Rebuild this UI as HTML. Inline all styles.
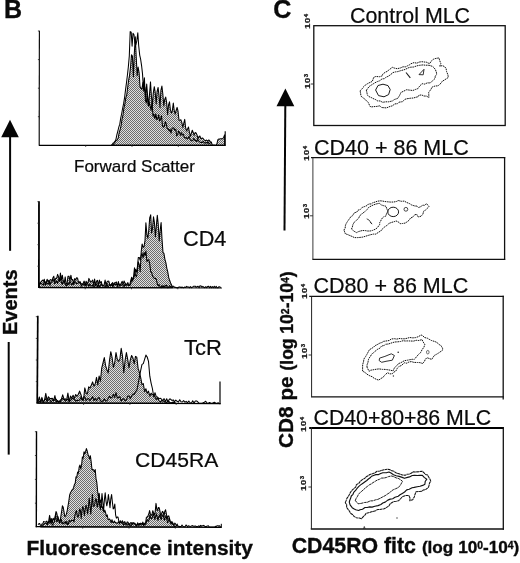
<!DOCTYPE html>
<html><head><meta charset="utf-8"><title>Figure</title>
<style>
html,body{margin:0;padding:0;background:#fff;}
body{width:520px;height:563px;position:relative;overflow:hidden;font-family:"Liberation Sans",sans-serif;color:#0a0a0a;}
svg{position:absolute;left:0;top:0;}
.t{position:absolute;white-space:nowrap;line-height:1;}
.b{font-weight:bold;-webkit-text-stroke:0.35px #0a0a0a;}
.n{-webkit-text-stroke:0.22px #0a0a0a;}
.rot{transform-origin:0 0;transform:rotate(-90deg);}
sup{font-size:60%;vertical-align:baseline;position:relative;top:-0.42em;line-height:0;}
.tk{font-size:8.6px;font-weight:bold;color:#111;letter-spacing:0.3px;-webkit-text-stroke:0.25px #111;transform-origin:0 0;transform:rotate(-90deg) scale(1.15,0.86);}
.tk sup{font-size:62%;top:-0.32em;}
</style></head><body>
<svg width="520" height="563" viewBox="0 0 520 563">
<defs><pattern id="ht" width="2" height="2" patternUnits="userSpaceOnUse"><rect width="2" height="2" fill="#e0e0e0"/><rect width="1" height="1" fill="#6c6c6c"/><rect x="1" y="1" width="1" height="1" fill="#6c6c6c"/></pattern></defs>
<path d="M112.5 145.3 L112.5 145.3 L113.5 144.0 L114.4 143.0 L115.4 141.5 L116.3 140.3 L117.3 139.9 L118.2 137.9 L119.2 132.6 L120.1 129.6 L121.1 125.7 L122.0 119.3 L123.0 114.9 L123.9 108.1 L124.9 103.8 L125.8 97.9 L126.8 94.6 L127.7 87.3 L128.7 79.8 L129.6 75.1 L130.6 66.2 L131.5 54.8 L132.4 56.1 L133.4 76.8 L134.3 53.4 L135.3 36.7 L136.2 56.9 L137.2 75.6 L138.1 67.0 L139.1 72.5 L140.0 86.5 L141.0 88.5 L141.9 89.3 L142.9 82.6 L143.8 91.1 L144.8 87.1 L145.7 97.2 L146.7 84.1 L147.6 95.8 L148.6 106.3 L149.5 94.5 L150.5 81.9 L151.4 96.2 L152.4 105.7 L153.3 92.9 L154.3 86.7 L155.2 92.4 L156.2 104.0 L157.1 91.3 L158.1 87.5 L159.0 95.4 L160.0 107.7 L160.9 90.4 L161.9 86.1 L162.8 93.7 L163.8 105.9 L164.7 99.5 L165.7 97.1 L166.6 102.4 L167.6 114.5 L168.5 105.2 L169.5 101.8 L170.4 109.8 L171.4 113.0 L172.3 111.0 L173.3 103.1 L174.2 110.3 L175.2 114.0 L176.1 110.7 L177.1 107.4 L178.0 111.0 L179.0 120.3 L179.9 120.2 L180.9 119.8 L181.8 122.4 L182.8 127.3 L183.7 123.5 L184.7 119.4 L185.6 127.6 L186.6 130.9 L187.5 129.3 L188.5 127.0 L189.4 132.2 L190.4 136.2 L191.3 133.5 L192.3 130.2 L193.2 132.4 L194.2 135.2 L195.1 132.6 L196.1 132.9 L197.0 134.9 L198.0 138.5 L198.9 136.6 L199.9 136.0 L200.8 138.7 L201.8 138.2 L202.7 138.0 L203.7 139.3 L204.6 140.1 L205.6 140.6 L206.5 140.0 L207.5 141.0 L208.4 140.1 L209.4 140.3 L210.3 141.8 L211.3 142.0 L212.2 144.9 L213.2 145.1 L214.1 144.9 L215.1 145.3 L216.0 145.3 L217.0 143.4 L217.9 139.6 L218.9 139.0 L219.8 138.9 L220.8 138.7 L221.7 138.7 L222.7 138.7 L223.6 137.5 L224.6 134.9 L224.6 145.3 Z" fill="url(#ht)" stroke="#000" stroke-width="1.05" stroke-linejoin="round"/>
<path d="M111.2 145.3 L112.2 144.5 L113.1 143.1 L114.1 142.3 L115.0 141.4 L116.0 139.1 L116.9 134.6 L117.9 131.0 L118.8 127.2 L119.8 124.2 L120.7 118.1 L121.7 113.5 L122.6 108.5 L123.6 103.7 L124.5 98.2 L125.5 90.1 L126.4 83.4 L127.4 75.3 L128.3 67.2 L129.3 56.0 L130.2 31.6 L131.2 32.3 L132.1 46.3 L133.0 33.3 L134.0 34.7 L134.9 43.3 L135.9 44.7 L136.8 40.8 L137.8 32.7 L138.7 45.8 L139.7 55.1 L140.6 59.0 L141.6 65.8 L142.5 73.6 L143.5 89.5 L144.4 77.8 L145.4 100.4 L146.3 102.9 L147.3 93.7 L148.2 105.2 L149.2 102.3 L150.1 105.9 L151.1 110.5 L152.0 101.9 L153.0 116.3 L153.9 114.3 L154.9 118.7 L155.8 113.9 L156.8 119.6 L157.7 119.2 L158.7 114.8 L159.6 121.0 L160.6 118.9 L161.5 115.7 L162.5 126.1 L163.4 127.3 L164.4 126.3 L165.3 121.6 L166.3 124.2 L167.2 128.7 L168.2 128.7 L169.1 130.9 L170.1 129.4 L171.0 133.2 L172.0 128.7 L172.9 127.8 L173.9 128.0 L174.8 130.2 L175.8 129.3 L176.7 136.0 L177.7 134.7 L178.6 131.0 L179.6 132.7 L180.5 135.3 L181.5 132.8 L182.4 135.0 L183.4 134.4 L184.3 137.4 L185.3 138.2 L186.2 137.4 L187.2 139.1 L188.1 138.3 L189.1 136.3 L190.0 139.2 L191.0 140.7 L191.9 140.7 L192.9 140.4 L193.8 138.4 L194.8 140.2 L195.7 140.6 L196.7 141.5 L197.6 138.9 L198.6 140.9 L199.5 141.7 L200.5 142.4 L201.4 142.5 L202.4 142.4 L203.3 141.3 L204.3 142.8 L205.2 143.2 L206.2 142.3 L207.1 143.1 L208.1 141.7 L209.0 143.7 L210.0 143.1 L210.9 142.8" fill="none" stroke="#000" stroke-width="1.05" stroke-linejoin="round"/>
<path d="M39.5 287.7 L39.5 283.4 L40.5 282.3 L41.4 281.5 L42.4 280.1 L43.3 281.0 L44.3 279.3 L45.2 285.4 L46.2 282.4 L47.1 279.3 L48.1 281.6 L49.0 280.2 L50.0 285.4 L50.9 281.8 L51.9 282.3 L52.8 278.1 L53.8 276.3 L54.7 281.7 L55.7 278.3 L56.6 278.5 L57.6 274.4 L58.5 276.6 L59.5 281.4 L60.4 273.0 L61.4 280.2 L62.3 275.2 L63.3 281.3 L64.2 283.3 L65.2 276.9 L66.1 284.0 L67.1 283.4 L68.0 276.3 L69.0 276.2 L69.9 280.9 L70.9 275.2 L71.8 279.9 L72.8 279.5 L73.7 283.9 L74.7 278.5 L75.6 280.1 L76.6 277.7 L77.5 277.9 L78.5 282.4 L79.4 281.7 L80.4 283.3 L81.3 283.7 L82.3 284.6 L83.2 283.0 L84.2 281.1 L85.1 285.6 L86.1 281.2 L87.0 283.1 L88.0 282.9 L88.9 278.4 L89.9 280.6 L90.8 282.2 L91.8 281.3 L92.7 280.0 L93.7 285.1 L94.6 279.1 L95.6 285.9 L96.5 281.2 L97.5 280.3 L98.4 285.7 L99.4 280.1 L100.3 283.0 L101.3 281.6 L102.2 285.8 L103.2 285.6 L104.1 284.9 L105.1 280.1 L106.0 285.1 L107.0 281.8 L107.9 281.1 L108.9 281.3 L109.8 284.9 L110.8 284.8 L111.7 283.9 L112.7 282.5 L113.6 286.2 L114.6 282.7 L115.5 282.4 L116.5 282.0 L117.4 286.6 L118.4 281.6 L119.3 286.3 L120.3 284.9 L121.2 283.2 L122.2 281.3 L123.1 284.6 L124.1 281.0 L125.0 283.1 L126.0 284.4 L126.9 284.3 L127.9 285.1 L128.8 285.5 L129.8 284.8 L130.7 280.7 L131.7 277.2 L132.6 281.1 L133.6 276.2 L134.5 267.8 L135.5 275.5 L136.4 276.8 L137.4 271.5 L138.3 261.8 L139.3 264.7 L140.2 271.8 L141.2 251.7 L142.1 244.0 L143.1 247.4 L144.0 246.8 L145.0 240.6 L145.9 222.8 L146.9 234.9 L147.8 238.2 L148.8 230.1 L149.7 218.0 L150.7 214.8 L151.6 233.0 L152.5 228.7 L153.5 216.8 L154.4 222.4 L155.4 236.7 L156.3 226.5 L157.3 215.3 L158.2 223.9 L159.2 241.0 L160.1 230.7 L161.1 222.5 L162.0 239.1 L163.0 252.8 L163.9 253.3 L164.9 259.3 L165.8 262.4 L166.8 268.2 L167.7 271.7 L168.7 277.4 L169.6 280.3 L170.6 283.0 L171.5 284.8 L172.5 287.7 L172.5 287.7 Z" fill="url(#ht)" stroke="#000" stroke-width="1.05" stroke-linejoin="round"/>
<path d="M39.5 283.9 L40.5 283.0 L41.4 283.8 L42.4 284.3 L43.3 285.2 L44.3 281.1 L45.2 282.7 L46.2 281.7 L47.1 284.2 L48.1 282.7 L49.0 284.2 L50.0 280.2 L50.9 279.5 L51.9 280.6 L52.8 280.2 L53.8 280.1 L54.7 283.8 L55.7 282.4 L56.6 281.0 L57.6 283.5 L58.5 279.8 L59.5 280.0 L60.4 278.9 L61.4 282.6 L62.3 284.4 L63.3 280.9 L64.2 281.5 L65.2 283.9 L66.1 285.9 L67.1 285.3 L68.0 283.1 L69.0 284.7 L69.9 281.3 L70.9 283.1 L71.8 285.1 L72.8 282.9 L73.7 284.4 L74.7 281.7 L75.6 281.9 L76.6 283.8 L77.5 283.2 L78.5 283.0 L79.4 282.6 L80.4 281.9 L81.3 286.3 L82.3 284.8 L83.2 283.8 L84.2 285.2 L85.1 284.0 L86.1 286.2 L87.0 282.9 L88.0 284.5 L88.9 286.3 L89.9 284.0 L90.8 285.6 L91.8 286.1 L92.7 285.0 L93.7 286.4 L94.6 286.2 L95.6 283.7 L96.5 284.4 L97.5 287.1 L98.4 284.1 L99.4 287.1 L100.3 285.9 L101.3 283.7 L102.2 284.9 L103.2 286.1 L104.1 285.9 L105.1 285.8 L106.0 286.9 L107.0 283.6 L107.9 287.2 L108.9 285.8 L109.8 284.7 L110.8 286.0 L111.7 283.8 L112.7 286.5 L113.6 283.7 L114.6 284.0 L115.5 284.8 L116.5 283.9 L117.4 285.5 L118.4 284.0 L119.3 284.1 L120.3 285.2 L121.2 285.3 L122.2 284.4 L123.1 285.5 L124.1 286.7 L125.0 284.1 L126.0 285.7 L126.9 284.3 L127.9 282.6 L128.8 285.1 L129.8 285.6 L130.7 284.0 L131.7 279.6 L132.6 279.3 L133.6 278.3 L134.5 275.1 L135.5 269.3 L136.4 272.2 L137.4 267.1 L138.3 257.6 L139.3 257.5 L140.2 260.3 L141.2 255.2 L142.1 253.5 L143.1 257.8 L144.0 252.5 L145.0 255.5 L145.9 251.0 L146.9 261.5 L147.8 260.4 L148.8 259.8 L149.7 263.6 L150.7 271.8 L151.6 272.1 L152.5 276.2 L153.5 277.4 L154.4 278.5 L155.4 278.3 L156.3 279.3 L157.3 283.8 L158.2 285.7 L159.2 284.7 L160.1 286.9 L161.1 287.6 L162.0 285.4 L163.0 287.4 L163.9 285.7 L164.9 286.8 L165.8 285.2 L166.8 285.6 L167.7 287.7 L168.7 287.6 L169.6 285.5 L170.6 286.5 L171.5 287.1 L172.5 286.2 L173.4 286.2 L174.4 287.2 L175.3 287.3 L176.3 287.7 L177.2 287.6 L178.2 287.7 L179.1 286.9 L180.1 287.0 L181.0 287.7 L182.0 287.0 L182.9 287.7 L183.9 287.7 L184.8 287.0 L185.8 287.5 L186.7 286.4 L187.7 287.1 L188.6 287.0 L189.6 287.7 L190.5 286.6 L191.5 287.7 L192.4 287.1 L193.4 286.3 L194.3 286.2 L195.3 286.2 L196.2 287.3 L197.2 286.6 L198.1 286.3 L199.1 287.7 L200.0 285.8 L201.0 285.9 L201.9 287.2 L202.9 286.4 L203.8 287.3 L204.8 287.7 L205.7 286.7 L206.7 287.7 L207.6 286.6 L208.6 286.2 L209.5 287.7 L210.5 286.4 L211.4 287.7 L212.4 286.6 L213.3 287.7 L214.3 286.3 L215.2 287.7 L216.2 286.4 L217.1 287.7 L218.1 287.7 L219.0 286.7 L220.0 287.1 L220.9 287.4" fill="none" stroke="#000" stroke-width="1.05" stroke-linejoin="round"/>
<path d="M38.0 403.3 L38.0 402.0 L39.3 396.9 L40.6 402.1 L41.9 397.4 L43.2 401.9 L44.5 400.2 L45.8 393.4 L47.1 400.5 L48.4 396.7 L49.7 398.4 L51.0 398.5 L52.3 398.2 L53.6 400.9 L54.9 395.5 L56.2 401.8 L57.5 400.5 L58.8 402.3 L60.1 400.3 L61.4 399.1 L62.7 394.8 L64.0 399.1 L65.3 401.3 L66.6 400.0 L67.9 393.1 L69.2 401.6 L70.5 396.1 L71.8 398.3 L73.1 395.3 L74.4 398.4 L75.7 394.5 L77.0 396.3 L78.3 394.3 L79.6 391.1 L80.9 394.4 L82.2 399.5 L83.5 400.3 L84.8 387.9 L86.1 393.0 L87.4 393.9 L88.7 386.8 L90.0 388.0 L91.3 385.1 L92.6 381.9 L93.9 386.1 L95.2 384.0 L96.5 377.4 L97.8 384.9 L99.1 376.0 L100.4 381.2 L101.7 368.2 L103.0 363.0 L104.3 357.6 L105.6 365.7 L106.9 369.7 L108.2 372.9 L109.5 360.4 L110.8 351.7 L112.1 357.5 L113.4 367.4 L114.7 362.7 L116.0 352.6 L117.3 359.4 L118.6 361.2 L119.9 358.9 L121.2 348.3 L122.5 356.1 L123.8 372.7 L125.1 360.4 L126.4 352.5 L127.7 359.3 L129.0 367.8 L130.3 359.9 L131.6 355.5 L132.9 357.8 L134.2 363.7 L135.5 356.4 L136.8 357.2 L138.1 368.4 L139.4 372.3 L140.7 377.6 L142.0 384.6 L143.3 383.6 L144.6 391.5 L145.9 388.7 L147.2 393.3 L148.5 391.1 L149.8 396.2 L151.1 393.2 L152.4 394.8 L153.7 394.6 L155.0 397.0 L156.3 399.5 L157.6 397.7 L158.9 400.5 L160.2 401.9 L161.5 400.5 L162.8 400.9 L164.1 401.1 L165.4 402.1 L166.7 402.3 L168.0 401.1 L169.3 401.8 L170.6 403.0 L171.9 402.5 L173.2 402.0 L174.5 402.4 L175.8 403.3 L175.8 403.3 Z" fill="url(#ht)" stroke="#000" stroke-width="1.05" stroke-linejoin="round"/>
<path d="M38.0 401.0 L39.3 401.2 L40.6 402.0 L41.9 399.1 L43.2 402.4 L44.5 400.3 L45.8 398.6 L47.1 401.8 L48.4 399.8 L49.7 399.4 L51.0 401.8 L52.3 400.5 L53.6 399.2 L54.9 400.3 L56.2 399.2 L57.5 401.6 L58.8 401.3 L60.1 401.9 L61.4 400.2 L62.7 398.4 L64.0 399.7 L65.3 398.8 L66.6 400.4 L67.9 398.8 L69.2 401.5 L70.5 400.6 L71.8 398.8 L73.1 398.5 L74.4 399.7 L75.7 401.2 L77.0 400.3 L78.3 400.5 L79.6 400.1 L80.9 397.4 L82.2 400.3 L83.5 396.9 L84.8 396.8 L86.1 400.8 L87.4 399.1 L88.7 398.5 L90.0 400.8 L91.3 398.8 L92.6 396.5 L93.9 400.6 L95.2 398.4 L96.5 400.8 L97.8 398.7 L99.1 397.4 L100.4 400.7 L101.7 401.5 L103.0 401.0 L104.3 398.7 L105.6 401.1 L106.9 400.7 L108.2 398.5 L109.5 396.2 L110.8 398.1 L112.1 397.2 L113.4 394.5 L114.7 397.4 L116.0 392.6 L117.3 397.9 L118.6 397.5 L119.9 396.7 L121.2 401.1 L122.5 398.9 L123.8 398.7 L125.1 400.9 L126.4 400.1 L127.7 396.3 L129.0 395.9 L130.3 398.7 L131.6 396.0 L132.9 394.1 L134.2 394.5 L135.5 391.7 L136.8 390.5 L138.1 384.2 L139.4 377.0 L140.7 370.4 L142.0 364.4 L143.3 363.6 L144.6 359.3 L145.9 355.1 L147.2 357.0 L148.5 361.3 L149.8 376.2 L151.1 383.1 L152.4 388.5 L153.7 396.7 L155.0 392.7 L156.3 397.0 L157.6 397.0 L158.9 398.9 L160.2 398.2 L161.5 399.2 L162.8 400.8 L164.1 398.6 L165.4 401.4 L166.7 398.7 L168.0 402.0 L169.3 399.1 L170.6 399.1 L171.9 400.5 L173.2 399.9 L174.5 401.7 L175.8 400.1 L177.1 401.3 L178.4 402.1 L179.7 399.8 L181.0 401.8 L182.3 402.0 L183.6 400.6 L184.9 402.3 L186.2 401.4 L187.5 402.9 L188.8 401.0 L190.1 402.8 L191.4 403.3 L192.7 400.8 L194.0 403.1 L195.3 401.0 L196.6 400.9 L197.9 402.0 L199.2 403.3 L200.5 403.3 L201.8 403.2 L203.1 402.8 L204.4 402.2 L205.7 401.3 L207.0 403.0 L208.3 403.3 L209.6 402.5 L210.9 403.3 L212.2 403.3 L213.5 402.6 L214.8 402.3 L216.1 403.3 L217.4 402.9 L218.7 402.4" fill="none" stroke="#000" stroke-width="1.05" stroke-linejoin="round"/>
<path d="M40.8 527.0 L40.8 527.0 L41.6 526.2 L42.4 525.2 L43.2 524.9 L44.0 524.1 L44.8 523.4 L45.6 523.1 L46.4 523.3 L47.2 525.0 L48.0 523.2 L48.8 520.4 L49.6 515.4 L50.4 519.8 L51.2 522.4 L52.0 524.1 L52.8 525.1 L53.6 522.9 L54.4 521.6 L55.2 516.3 L56.0 511.5 L56.8 513.3 L57.6 517.4 L58.4 519.4 L59.2 521.4 L60.0 522.3 L60.8 516.7 L61.6 511.7 L62.4 505.7 L63.2 507.3 L64.0 511.6 L64.8 516.6 L65.6 515.9 L66.4 514.2 L67.2 510.6 L68.0 506.0 L68.8 501.3 L69.6 495.2 L70.4 492.8 L71.2 491.5 L72.0 489.9 L72.8 489.6 L73.6 487.5 L74.4 484.6 L75.2 483.4 L76.0 476.9 L76.8 477.2 L77.6 472.1 L78.4 473.3 L79.2 466.9 L80.0 465.0 L80.8 469.0 L81.6 465.0 L82.4 456.9 L83.2 458.3 L84.0 451.7 L84.8 453.7 L85.6 451.5 L86.4 448.6 L87.2 451.0 L88.0 454.4 L88.8 456.3 L89.6 458.9 L90.4 455.7 L91.2 462.1 L92.0 469.8 L92.8 469.4 L93.6 469.9 L94.4 471.8 L95.2 469.6 L96.0 478.5 L96.8 482.3 L97.6 490.7 L98.4 496.8 L99.2 493.4 L100.0 502.4 L100.8 500.1 L101.6 507.3 L102.4 506.8 L103.2 510.5 L104.0 512.1 L104.8 510.1 L105.6 512.6 L106.4 516.5 L107.2 514.9 L108.0 519.1 L108.8 519.5 L109.6 519.0 L110.4 520.5 L111.2 522.5 L112.0 519.7 L112.8 522.4 L113.6 522.4 L114.4 521.0 L115.2 522.5 L116.0 522.6 L116.8 523.3 L117.6 523.3 L118.4 521.8 L119.2 522.8 L120.0 521.7 L120.8 522.5 L121.6 522.2 L122.4 520.8 L123.2 522.4 L124.0 522.3 L124.8 521.6 L125.6 523.7 L126.4 523.9 L127.2 521.9 L128.0 522.3 L128.8 524.0 L129.6 524.3 L130.4 523.0 L131.2 522.5 L132.0 524.5 L132.8 522.6 L133.6 522.8 L134.4 523.5 L135.2 524.0 L136.0 524.9 L136.8 525.1 L137.6 522.8 L138.4 524.7 L139.2 523.6 L140.0 524.7 L140.8 523.1 L141.6 523.7 L142.4 524.4 L143.2 524.7 L144.0 523.0 L144.8 524.9 L145.6 522.8 L146.4 517.3 L147.2 516.9 L148.0 515.8 L148.8 514.0 L149.6 510.6 L150.4 513.9 L151.2 515.3 L152.0 514.5 L152.8 510.7 L153.6 513.0 L154.4 515.0 L155.2 511.8 L156.0 503.4 L156.8 509.1 L157.6 510.4 L158.4 507.5 L159.2 507.8 L160.0 511.3 L160.8 516.5 L161.6 513.6 L162.4 511.4 L163.2 512.2 L164.0 516.3 L164.8 511.2 L165.6 509.8 L166.4 514.0 L167.2 519.2 L168.0 516.0 L168.8 515.9 L169.6 518.8 L170.4 522.4 L171.2 522.1 L172.0 524.2 L172.8 523.5 L173.6 525.0 L174.4 526.6 L175.2 526.3 L176.0 527.0 L176.0 527.0 Z" fill="url(#ht)" stroke="#000" stroke-width="1.05" stroke-linejoin="round"/>
<path d="M38.0 524.7 L38.8 523.8 L39.6 523.5 L40.4 525.3 L41.2 525.6 L42.0 523.9 L42.8 524.1 L43.6 521.5 L44.4 521.8 L45.2 522.0 L46.0 521.9 L46.8 521.1 L47.6 523.5 L48.4 521.8 L49.2 523.1 L50.0 518.7 L50.8 523.3 L51.6 518.6 L52.4 522.7 L53.2 518.2 L54.0 519.9 L54.8 518.8 L55.6 514.8 L56.4 521.3 L57.2 521.6 L58.0 516.5 L58.8 520.1 L59.6 523.3 L60.4 518.9 L61.2 519.2 L62.0 523.7 L62.8 522.2 L63.6 523.8 L64.4 523.0 L65.2 521.5 L66.0 523.9 L66.8 521.4 L67.6 524.6 L68.4 523.9 L69.2 520.3 L70.0 522.1 L70.8 521.6 L71.6 520.2 L72.4 520.5 L73.2 520.3 L74.0 521.9 L74.8 515.9 L75.6 512.9 L76.4 510.5 L77.2 515.4 L78.0 517.3 L78.8 514.8 L79.6 509.0 L80.4 510.3 L81.2 518.5 L82.0 510.6 L82.8 506.4 L83.6 509.3 L84.4 515.4 L85.2 509.4 L86.0 505.2 L86.8 507.4 L87.6 514.0 L88.4 507.5 L89.2 498.3 L90.0 505.2 L90.8 514.1 L91.6 505.0 L92.4 494.3 L93.2 506.3 L94.0 506.3 L94.8 503.9 L95.6 498.8 L96.4 499.6 L97.2 507.2 L98.0 504.5 L98.8 495.0 L99.6 505.0 L100.4 509.5 L101.2 503.6 L102.0 493.5 L102.8 502.2 L103.6 510.7 L104.4 499.9 L105.2 492.7 L106.0 501.1 L106.8 505.8 L107.6 501.8 L108.4 494.6 L109.2 500.9 L110.0 507.8 L110.8 498.8 L111.6 494.6 L112.4 502.3 L113.2 508.9 L114.0 508.1 L114.8 504.1 L115.6 514.8 L116.4 518.1 L117.2 517.1 L118.0 517.0 L118.8 521.2 L119.6 523.9 L120.4 520.7 L121.2 522.1 L122.0 523.1 L122.8 523.1 L123.6 525.3 L124.4 524.0 L125.2 523.4 L126.0 524.6 L126.8 525.2 L127.6 524.6 L128.4 525.0 L129.2 523.7 L130.0 525.7 L130.8 525.9 L131.6 525.1 L132.4 523.8 L133.2 523.7 L134.0 524.0 L134.8 523.1 L135.6 525.0 L136.4 526.1 L137.2 524.4 L138.0 524.5 L138.8 525.4 L139.6 523.5 L140.4 524.7 L141.2 525.0 L142.0 524.6 L142.8 522.1 L143.6 525.7 L144.4 524.2 L145.2 524.3 L146.0 523.9 L146.8 520.2 L147.6 519.8 L148.4 521.2 L149.2 519.2 L150.0 514.9 L150.8 518.0 L151.6 518.9 L152.4 517.1 L153.2 513.8 L154.0 516.0 L154.8 519.5 L155.6 516.7 L156.4 513.8 L157.2 517.0 L158.0 520.4 L158.8 516.7 L159.6 514.9 L160.4 517.8 L161.2 519.6 L162.0 516.0 L162.8 515.5 L163.6 516.7 L164.4 520.3 L165.2 517.6 L166.0 516.1 L166.8 519.0 L167.6 522.6 L168.4 520.9 L169.2 518.5 L170.0 521.4 L170.8 523.6 L171.6 521.8 L172.4 521.9 L173.2 524.2 L174.0 525.3 L174.8 523.1 L175.6 523.8 L176.4 526.1 L177.2 524.1 L178.0 526.8 L178.8 526.0 L179.6 526.9 L180.4 526.5 L181.2 526.5 L182.0 525.0 L182.8 526.3 L183.6 526.6 L184.4 526.7 L185.2 526.4 L186.0 525.0 L186.8 525.7 L187.6 527.0 L188.4 525.7 L189.2 526.1 L190.0 526.4 L190.8 526.2 L191.6 525.9 L192.4 525.6 L193.2 526.3 L194.0 526.0 L194.8 526.4 L195.6 526.0 L196.4 526.6 L197.2 526.6 L198.0 526.3 L198.8 525.9 L199.6 526.9 L200.4 525.4 L201.2 526.4 L202.0 525.6 L202.8 526.0 L203.6 525.4 L204.4 526.0 L205.2 526.6 L206.0 526.7 L206.8 526.3 L207.6 525.9 L208.4 525.8 L209.2 527.0 L210.0 527.0 L210.8 527.0 L211.6 527.0 L212.4 527.0 L213.2 527.0 L214.0 527.0 L214.8 527.0 L215.6 526.3 L216.4 526.4 L217.2 525.7 L218.0 525.7 L218.8 526.2 L219.6 525.8 L220.4 527.0 L221.2 527.0" fill="none" stroke="#000" stroke-width="1.05" stroke-linejoin="round"/>
<line x1="39.4" y1="30.8" x2="39.2" y2="145.8" stroke="#111" stroke-width="1.20"/>
<line x1="39.0" y1="145.3" x2="225.6" y2="145.3" stroke="#000" stroke-width="1.20"/>
<line x1="225.2" y1="131.3" x2="225.2" y2="145.8" stroke="#000" stroke-width="1.10"/>
<line x1="39.0" y1="201.2" x2="38.9" y2="288.0" stroke="#000" stroke-width="1.80"/>
<line x1="38.2" y1="287.4" x2="221.9" y2="288.0" stroke="#000" stroke-width="1.20"/>
<line x1="37.8" y1="315.8" x2="37.2" y2="403.5" stroke="#000" stroke-width="1.70"/>
<line x1="36.6" y1="402.9" x2="220.6" y2="403.7" stroke="#000" stroke-width="1.20"/>
<line x1="220.0" y1="381.5" x2="220.0" y2="404.2" stroke="#000" stroke-width="1.20"/>
<line x1="36.5" y1="431.2" x2="36.3" y2="527.3" stroke="#000" stroke-width="1.40"/>
<line x1="35.8" y1="526.7" x2="221.5" y2="527.4" stroke="#000" stroke-width="1.20"/>
<line x1="221.3" y1="523.8" x2="221.3" y2="527.8" stroke="#000" stroke-width="1.00"/>
<line x1="37.9" y1="116.7" x2="39.4" y2="116.7" stroke="#222" stroke-width="0.80"/>
<line x1="37.9" y1="88.2" x2="39.4" y2="88.2" stroke="#222" stroke-width="0.80"/>
<line x1="37.9" y1="59.6" x2="39.4" y2="59.6" stroke="#222" stroke-width="0.80"/>
<line x1="37.9" y1="31.0" x2="39.4" y2="31.0" stroke="#222" stroke-width="0.80"/>
<line x1="85.7" y1="145.3" x2="85.7" y2="146.9" stroke="#222" stroke-width="0.80"/>
<line x1="132.0" y1="145.3" x2="132.0" y2="146.9" stroke="#222" stroke-width="0.80"/>
<line x1="178.3" y1="145.3" x2="178.3" y2="146.9" stroke="#222" stroke-width="0.80"/>
<line x1="37.4" y1="266.2" x2="38.9" y2="266.2" stroke="#222" stroke-width="0.80"/>
<line x1="37.4" y1="244.7" x2="38.9" y2="244.7" stroke="#222" stroke-width="0.80"/>
<line x1="37.4" y1="223.2" x2="38.9" y2="223.2" stroke="#222" stroke-width="0.80"/>
<line x1="37.4" y1="201.7" x2="38.9" y2="201.7" stroke="#222" stroke-width="0.80"/>
<line x1="85.2" y1="287.7" x2="85.2" y2="289.3" stroke="#222" stroke-width="0.80"/>
<line x1="131.5" y1="287.7" x2="131.5" y2="289.3" stroke="#222" stroke-width="0.80"/>
<line x1="177.8" y1="287.7" x2="177.8" y2="289.3" stroke="#222" stroke-width="0.80"/>
<line x1="35.8" y1="381.6" x2="37.3" y2="381.6" stroke="#222" stroke-width="0.80"/>
<line x1="35.8" y1="360.0" x2="37.3" y2="360.0" stroke="#222" stroke-width="0.80"/>
<line x1="35.8" y1="338.4" x2="37.3" y2="338.4" stroke="#222" stroke-width="0.80"/>
<line x1="35.8" y1="316.7" x2="37.3" y2="316.7" stroke="#222" stroke-width="0.80"/>
<line x1="83.6" y1="403.3" x2="83.6" y2="404.9" stroke="#222" stroke-width="0.80"/>
<line x1="129.9" y1="403.3" x2="129.9" y2="404.9" stroke="#222" stroke-width="0.80"/>
<line x1="176.2" y1="403.3" x2="176.2" y2="404.9" stroke="#222" stroke-width="0.80"/>
<line x1="34.9" y1="503.2" x2="36.4" y2="503.2" stroke="#222" stroke-width="0.80"/>
<line x1="34.9" y1="479.4" x2="36.4" y2="479.4" stroke="#222" stroke-width="0.80"/>
<line x1="34.9" y1="455.5" x2="36.4" y2="455.5" stroke="#222" stroke-width="0.80"/>
<line x1="34.9" y1="431.7" x2="36.4" y2="431.7" stroke="#222" stroke-width="0.80"/>
<line x1="82.7" y1="527.0" x2="82.7" y2="528.6" stroke="#222" stroke-width="0.80"/>
<line x1="129.0" y1="527.0" x2="129.0" y2="528.6" stroke="#222" stroke-width="0.80"/>
<line x1="175.3" y1="527.0" x2="175.3" y2="528.6" stroke="#222" stroke-width="0.80"/>
<polygon points="10,119.8 1.2,137.3 18.8,137.3" fill="#050505"/>
<line x1="10.1" y1="137.0" x2="10.1" y2="250.8" stroke="#050505" stroke-width="2.00"/>
<line x1="8.7" y1="342.0" x2="8.7" y2="454.6" stroke="#050505" stroke-width="2.00"/>
<polygon points="285.4,88.6 276.5,106.3 294.3,106.3" fill="#050505"/>
<line x1="285.3" y1="106.0" x2="284.5" y2="230.4" stroke="#050505" stroke-width="2.00"/>
<rect x="313.8" y="25.7" width="191.4" height="99.8" fill="none" stroke="#111" stroke-width="1.30"/>
<line x1="311.0" y1="157.6" x2="505.2" y2="157.6" stroke="#111" stroke-width="1.30"/>
<line x1="504.6" y1="157.0" x2="504.6" y2="260.0" stroke="#111" stroke-width="1.30"/>
<line x1="312.4" y1="259.4" x2="505.2" y2="259.4" stroke="#111" stroke-width="1.30"/>
<line x1="312.9" y1="157.6" x2="312.9" y2="259.4" stroke="#222" stroke-width="0.9"/>
<line x1="309.2" y1="296.4" x2="503.8" y2="296.4" stroke="#111" stroke-width="1.30"/>
<line x1="503.2" y1="295.8" x2="503.2" y2="399.4" stroke="#111" stroke-width="1.30"/>
<line x1="311.0" y1="396.9" x2="503.8" y2="396.9" stroke="#111" stroke-width="1.30"/>
<line x1="311.6" y1="296.4" x2="311.6" y2="396.9" stroke="#222" stroke-width="1"/>
<line x1="309.2" y1="428.0" x2="504.0" y2="428.0" stroke="#000" stroke-width="2.10"/>
<line x1="503.3" y1="427.0" x2="503.3" y2="529.7" stroke="#111" stroke-width="1.30"/>
<line x1="310.8" y1="529.0" x2="503.9" y2="529.0" stroke="#111" stroke-width="1.30"/>
<line x1="311.4" y1="427" x2="311.4" y2="529" stroke="#222" stroke-width="1"/>
<path d="M360.1 90.8 L362.2 88.7 L363.0 87.4 L365.2 85.2 L367.3 83.8 L369.0 82.9 L372.3 81.4 L373.7 77.4 L375.7 76.5 L379.6 76.7 L382.2 75.9 L382.8 74.0 L385.2 72.3 L387.6 71.2 L388.3 70.4 L390.0 69.2 L392.2 67.3 L394.7 68.2 L397.2 68.7 L400.6 67.9 L402.9 66.8 L405.7 66.8 L407.5 65.8 L409.4 64.9 L410.8 63.8 L414.0 62.6 L416.9 63.2 L419.0 62.1 L421.8 61.7 L425.1 62.1 L426.2 62.1 L429.6 63.7 L431.4 60.9 L433.7 59.1 L435.9 58.4 L439.0 57.9 L439.5 59.9 L440.8 63.6 L439.7 66.3 L442.3 65.6 L444.6 66.6 L446.1 68.6 L446.6 71.6 L447.9 74.7 L448.3 77.4 L446.9 78.4 L444.6 79.9 L442.2 81.3 L441.2 83.0 L438.3 85.6 L437.2 85.9 L435.1 86.0 L432.2 87.0 L430.8 89.5 L428.7 92.4 L428.9 97.5 L426.5 96.1 L423.7 96.0 L421.9 95.0 L419.1 95.1 L418.2 96.7 L416.1 97.2 L413.4 98.0 L410.8 98.2 L407.1 98.7 L405.0 99.3 L402.4 101.7 L399.0 102.2 L397.4 103.7 L394.9 103.9 L392.2 105.9 L390.2 106.4 L386.4 107.9 L383.9 107.7 L381.6 107.5 L379.8 105.8 L376.9 106.4 L374.0 106.6 L370.7 107.0 L369.6 105.6 L368.4 102.6 L367.2 101.6 L365.5 99.7 L362.7 97.5 L361.0 96.2 L360.6 93.4 Z" fill="none" stroke="#111" stroke-width="1.00" stroke-dasharray="1.6 0.7" stroke-linejoin="round"/>
<path d="M366.4 90.1 L367.1 89.3 L369.1 86.5 L371.4 85.0 L373.8 83.5 L376.0 82.2 L377.6 81.5 L379.8 80.7 L382.0 78.9 L384.3 78.7 L385.8 77.4 L388.5 76.1 L390.7 74.6 L392.9 72.6 L395.4 71.9 L397.7 71.6 L400.6 70.7 L404.0 69.8 L405.6 69.2 L408.9 67.6 L410.8 67.2 L413.6 67.0 L417.0 65.8 L419.7 65.3 L423.1 64.9 L425.3 65.2 L428.1 65.2 L430.5 65.7 L432.7 66.5 L434.1 67.8 L435.5 69.8 L436.6 73.0 L436.5 74.6 L435.2 76.2 L435.1 78.4 L432.6 80.8 L430.2 82.9 L427.2 82.9 L424.8 84.1 L422.1 83.7 L420.0 85.7 L417.6 88.8 L415.6 89.4 L412.8 90.5 L409.3 90.1 L406.7 89.7 L403.4 91.3 L401.0 92.4 L399.5 95.6 L397.7 98.4 L394.4 99.5 L392.5 100.9 L388.8 101.8 L385.9 101.8 L382.6 102.3 L380.2 101.0 L377.2 100.8 L375.8 99.7 L373.0 98.5 L371.2 97.5 L368.9 96.6 L367.4 95.1 Z" fill="none" stroke="#111" stroke-width="1.00" stroke-dasharray="1.6 0.7" stroke-linejoin="round"/>
<path d="M375.6 90 L378 85.5 L383 84.2 L388 85.6 L390.2 89.5 L388.6 94.6 L384 96.8 L378.5 95.6 Z" fill="none" stroke="#1a1a1a" stroke-width="1"/>
<path d="M419 74.6 L424 69.3 L423.2 74.8 Z" fill="none" stroke="#1a1a1a" stroke-width="0.9"/>
<path d="M406 72.5 L410.3 77.8" fill="none" stroke="#1a1a1a" stroke-width="1.1"/>
<path d="M343.9 230.0 L345.1 228.3 L345.5 225.1 L346.3 223.4 L347.6 221.3 L349.7 218.4 L350.9 216.6 L352.6 215.7 L354.1 213.0 L357.0 211.9 L357.9 210.2 L360.2 209.6 L362.2 207.4 L364.7 206.5 L367.2 205.5 L368.6 203.9 L371.3 204.0 L372.5 202.9 L375.6 201.9 L377.0 201.3 L380.2 200.8 L382.8 201.1 L384.7 201.5 L387.7 201.8 L390.7 202.1 L393.8 202.0 L396.4 201.5 L398.3 200.5 L401.4 201.3 L404.3 201.1 L406.5 202.4 L409.7 203.7 L411.7 205.0 L414.8 206.0 L417.1 206.1 L418.5 207.6 L420.6 206.7 L422.9 205.1 L424.4 205.4 L426.5 203.6 L428.9 206.5 L427.8 207.9 L425.6 210.0 L423.6 211.2 L422.9 214.2 L421.1 216.2 L418.2 217.0 L416.6 214.2 L414.6 214.9 L412.5 217.3 L410.6 217.9 L409.3 220.0 L407.6 221.5 L405.1 223.1 L402.5 223.5 L400.2 223.7 L398.9 222.3 L396.0 220.9 L394.2 221.7 L391.9 222.3 L389.0 223.4 L386.8 225.5 L384.7 226.9 L382.1 229.2 L380.8 231.0 L378.6 232.2 L375.9 234.1 L373.4 234.1 L371.1 234.6 L368.9 235.2 L367.0 235.8 L364.0 236.7 L362.2 237.2 L359.0 237.5 L357.7 237.6 L354.4 237.6 L352.1 236.4 L350.2 235.7 L347.3 234.4 L345.4 233.9 Z" fill="none" stroke="#111" stroke-width="1.00" stroke-dasharray="1.6 0.7" stroke-linejoin="round"/>
<path d="M351.5 229.1 L352.3 227.2 L353.0 224.3 L354.4 222.0 L356.9 219.9 L358.7 218.2 L359.7 215.7 L361.7 214.2 L362.5 213.2 L364.9 211.7 L367.2 209.4 L368.4 207.6 L371.5 205.8 L373.5 204.9 L376.1 204.0 L379.3 203.3 L381.3 204.9 L383.3 205.6 L386.0 206.3 L386.9 209.1 L388.0 211.1 L386.7 213.3 L385.7 216.2 L383.6 216.8 L381.5 219.1 L380.7 221.1 L379.7 222.6 L379.6 224.7 L377.7 227.2 L376.0 228.9 L372.6 230.4 L370.1 231.0 L367.4 231.0 L365.3 230.6 L362.5 230.5 L360.1 231.1 L358.5 231.6 L356.5 232.6 L354.2 231.3 Z" fill="none" stroke="#111" stroke-width="1.00" stroke-dasharray="1.6 0.7" stroke-linejoin="round"/>
<ellipse cx="393.2" cy="211.9" rx="5.4" ry="4.7" fill="none" stroke="#1a1a1a" stroke-width="1"/>
<ellipse cx="405.9" cy="209.3" rx="1.9" ry="1.9" fill="none" stroke="#1a1a1a" stroke-width="0.8"/>
<path d="M366.7 218.8 L369 220 L372 224.1 L370 222" fill="none" stroke="#1a1a1a" stroke-width="0.8"/>
<path d="M362.6 366.2 L362.7 364.5 L363.5 361.8 L363.9 359.0 L365.5 356.7 L366.9 354.4 L368.4 351.6 L369.4 349.7 L372.0 348.2 L373.7 347.1 L374.9 345.7 L376.9 344.8 L380.0 343.0 L382.0 342.5 L383.4 341.4 L386.0 341.0 L389.3 340.5 L391.2 339.0 L394.5 338.7 L396.7 339.1 L400.1 338.4 L401.9 338.8 L404.9 338.8 L407.6 338.1 L409.7 337.5 L412.9 337.9 L415.5 337.6 L418.3 336.7 L421.1 335.0 L422.6 335.6 L424.5 337.5 L427.6 338.3 L429.2 339.3 L431.7 340.6 L434.8 341.5 L436.9 342.5 L439.3 344.6 L440.7 345.3 L442.3 347.7 L443.0 349.5 L441.6 350.9 L438.6 353.0 L436.5 354.3 L434.4 355.4 L432.9 357.5 L431.7 359.4 L426.9 357.7 L425.2 359.5 L424.6 361.1 L422.7 363.5 L419.9 362.6 L417.4 362.5 L414.0 362.4 L411.4 361.6 L408.9 362.0 L406.9 363.2 L404.3 362.8 L401.4 365.5 L398.9 366.5 L397.3 368.3 L395.8 371.1 L393.4 372.4 L392.4 373.7 L389.9 373.9 L387.5 372.7 L384.5 375.4 L382.9 377.5 L381.1 378.4 L378.7 380.1 L376.8 379.5 L374.0 378.2 L372.3 376.8 L369.2 375.5 L366.4 373.9 L365.5 372.7 L362.6 371.2 Z" fill="none" stroke="#111" stroke-width="1.00" stroke-dasharray="1.6 0.7" stroke-linejoin="round"/>
<path d="M367.0 367.1 L367.0 364.9 L367.9 362.8 L368.4 359.8 L369.2 357.9 L370.4 356.5 L371.5 354.3 L373.4 352.8 L375.1 351.3 L377.8 349.1 L379.9 348.2 L381.5 346.1 L384.3 345.4 L385.5 344.3 L388.4 344.0 L390.5 343.3 L392.3 342.7 L394.8 342.0 L397.9 341.8 L400.6 341.5 L403.1 340.7 L405.3 341.0 L407.8 340.9 L410.5 341.0 L413.6 341.1 L416.2 340.3 L418.9 340.5 L422.0 339.6 L423.2 342.1 L424.8 344.2 L424.0 347.1 L422.0 349.8 L420.7 352.5 L418.5 354.4 L416.5 356.8 L414.2 359.5 L412.4 359.3 L409.7 359.7 L407.5 360.2 L404.8 360.6 L403.0 361.4 L400.9 362.7 L398.5 363.6 L397.0 365.5 L394.5 367.7 L393.0 370.9 L390.5 370.2 L386.6 369.6 L385.0 369.4 L382.5 369.4 L379.1 368.9 L376.6 369.2 L373.1 369.8 L370.8 370.2 L369.0 371.3 Z" fill="none" stroke="#111" stroke-width="1.00" stroke-dasharray="1.6 0.7" stroke-linejoin="round"/>
<path d="M379.6 358.1 L384.9 356.4 L391.3 353.8 L394.4 355.5 L392.3 360.2 L386 361.3 L381.7 362.3 L379.2 360.6 Z" fill="none" stroke="#1a1a1a" stroke-width="0.9" stroke-linejoin="round"/>
<circle cx="398.2" cy="352.2" r="0.8" fill="#222"/>
<circle cx="393.4" cy="376" r="0.7" fill="#333"/>
<ellipse cx="427.8" cy="352.2" rx="1.3" ry="1.8" fill="none" stroke="#333" stroke-width="0.7"/>
<path d="M345.3 502.6 L346.0 500.9 L346.9 498.4 L348.5 496.1 L349.4 494.4 L350.4 492.4 L352.1 490.2 L354.1 488.4 L355.7 487.1 L356.4 484.6 L358.8 483.4 L360.3 481.3 L362.3 479.6 L364.9 478.3 L365.8 477.0 L368.0 475.7 L369.9 474.5 L372.9 473.6 L375.0 472.8 L377.1 471.3 L380.0 470.9 L381.2 470.4 L384.0 469.8 L387.1 469.3 L389.4 469.5 L391.0 470.4 L393.8 471.3 L396.7 473.2 L399.8 474.1 L402.3 475.0 L405.3 475.3 L407.0 474.3 L409.4 474.0 L411.6 473.1 L412.7 471.8 L415.6 471.9 L419.0 471.7 L422.1 471.2 L424.1 472.8 L425.6 474.5 L427.6 475.1 L428.8 477.3 L430.1 479.4 L430.7 481.2 L429.5 483.1 L429.0 485.6 L428.4 487.3 L425.9 489.4 L423.2 490.1 L421.9 491.3 L418.6 491.5 L416.0 491.7 L414.9 494.7 L414.3 496.9 L412.7 499.7 L409.8 500.8 L410.1 498.2 L408.9 495.6 L405.7 495.5 L402.8 496.5 L400.8 498.5 L398.4 500.8 L396.2 501.3 L393.6 501.5 L392.5 502.3 L390.2 503.8 L388.9 505.9 L386.3 507.6 L384.2 508.7 L379.9 509.4 L377.5 509.6 L375.6 510.7 L372.7 511.5 L370.7 512.1 L369.3 512.6 L366.1 513.4 L364.9 515.2 L363.5 516.3 L361.5 518.7 L359.3 518.1 L356.3 517.7 L354.0 516.4 L352.8 514.8 L350.5 513.2 L349.4 511.1 L348.6 510.1 L346.6 507.4 L346.7 504.8 Z" fill="none" stroke="#111" stroke-width="1.05" stroke-dasharray="3 0.4" stroke-linejoin="round"/>
<path d="M349.3 502.2 L349.7 500.5 L350.6 498.3 L351.3 496.0 L353.0 494.3 L353.7 492.4 L355.8 490.2 L357.1 488.3 L358.6 486.6 L360.6 484.9 L363.0 483.2 L365.0 481.8 L366.8 480.5 L368.4 479.0 L370.5 477.5 L371.6 476.2 L374.2 475.2 L375.8 474.6 L378.6 474.6 L380.7 473.5 L382.8 472.7 L386.3 472.8 L388.9 472.0 L391.0 473.1 L393.5 474.7 L396.2 475.8 L399.1 476.4 L402.2 477.4 L404.4 478.3 L407.5 477.4 L409.5 476.9 L412.2 475.5 L414.5 475.4 L417.4 475.5 L420.0 475.3 L422.4 475.3 L424.2 477.4 L426.8 479.2 L425.2 481.5 L424.9 484.3 L422.7 485.4 L420.0 486.2 L417.2 486.7 L414.2 487.4 L412.1 487.8 L409.2 489.3 L406.7 489.9 L404.6 492.0 L402.3 493.4 L400.0 494.8 L398.2 496.2 L395.0 497.3 L392.7 498.7 L390.2 499.1 L387.8 500.1 L385.2 502.1 L382.8 503.0 L380.9 504.5 L378.0 505.6 L374.9 506.2 L372.1 507.1 L369.7 506.9 L367.2 507.5 L365.0 507.5 L362.5 509.2 L360.0 509.8 L358.7 510.5 L355.7 509.8 L353.8 508.8 L352.2 507.7 L350.1 504.9 Z" fill="none" stroke="#111" stroke-width="1.15" stroke-linejoin="round"/>
<path d="M355.2 500.8 L356.1 498.5 L357.6 496.2 L358.5 494.3 L360.4 492.2 L361.7 491.3 L364.0 489.2 L365.9 487.5 L367.4 486.4 L369.2 484.9 L371.3 483.9 L373.0 482.6 L375.6 481.1 L377.1 480.1 L379.5 479.3 L381.5 478.1 L384.1 478.0 L386.3 477.5 L388.5 476.6 L391.5 476.0 L393.3 476.5 L396.2 477.9 L398.1 478.3 L400.5 479.7 L402.5 481.3 L400.8 484.4 L399.3 486.7 L397.5 487.9 L395.3 488.9 L393.5 489.6 L391.2 491.1 L389.9 492.6 L387.8 493.8 L385.1 495.7 L382.7 496.9 L380.3 498.2 L377.8 499.4 L375.7 499.8 L372.9 500.8 L370.3 500.9 L367.2 502.3 L364.5 502.5 L361.1 503.4 L358.1 503.8 L356.9 502.1 Z" fill="none" stroke="#111" stroke-width="0.95" stroke-dasharray="3 0.5" stroke-linejoin="round"/>
<circle cx="397" cy="518" r="0.7" fill="#333"/>
<path d="M363.5 529 L364.3 526.5 L365.2 529" fill="none" stroke="#222" stroke-width="0.8"/>
<line x1="310.8" y1="84.0" x2="313.8" y2="84.0" stroke="#222" stroke-width="0.90"/>
<line x1="309.9" y1="215.8" x2="312.9" y2="215.8" stroke="#222" stroke-width="0.90"/>
<line x1="308.6" y1="355.0" x2="311.6" y2="355.0" stroke="#222" stroke-width="0.90"/>
<line x1="308.4" y1="487.0" x2="311.4" y2="487.0" stroke="#222" stroke-width="0.90"/>
</svg>
<div class="t b" id="lblB" style="left:4px;top:-3.5px;font-size:25px;">B</div>
<div class="t b" id="lblC" style="left:273.3px;top:-3.3px;font-size:25px;">C</div>
<div class="t n" id="fs" style="left:74px;top:158px;font-size:17px;">Forward Scatter</div>
<div class="t n" id="cd4" style="left:183px;top:228px;font-size:21.7px;">CD4</div>
<div class="t n" id="tcr" style="left:184px;top:337.2px;font-size:22px;">TcR</div>
<div class="t n" id="cd45ra" style="left:135px;top:448.5px;font-size:21.1px;">CD45RA</div>
<div class="t b" id="fi" style="left:26.5px;top:538px;font-size:20.9px;">Fluorescence intensity</div>
<div class="t b rot" id="ev" style="left:0.1px;top:335px;font-size:20px;">Events</div>
<div class="t n" id="t1" style="left:350px;top:5.5px;font-size:21.4px;">Control MLC</div>
<div class="t n" id="t2" style="left:314px;top:138.2px;font-size:21.5px;">CD40 + 86 MLC</div>
<div class="t n" id="t3" style="left:313.5px;top:276px;font-size:21.5px;">CD80 + 86 MLC</div>
<div class="t n" id="t4" style="left:313.5px;top:408.1px;font-size:21.3px;">CD40+80+86 MLC</div>
<div class="t b rot" id="cd8" style="left:275.5px;top:448.3px;font-size:20.8px;">CD8 pe <span style="font-size:17.5px;">(log 10<sup>2</sup>-10<sup>4</sup>)</span></div>
<div class="t b" id="cd45ro" style="left:291.7px;top:536px;font-size:21.3px;">CD45RO fitc <span style="font-size:17.2px;">(log 10<sup>0</sup>-10<sup>4</sup>)</span></div>
<div class="t tk" style="left:304.3px;top:28.7px;">10<sup>4</sup></div>
<div class="t tk" style="left:304.3px;top:89.1px;">10<sup>3</sup></div>
<div class="t tk" style="left:302.9px;top:161px;">10<sup>4</sup></div>
<div class="t tk" style="left:302.9px;top:219.4px;">10<sup>3</sup></div>
<div class="t tk" style="left:300.6px;top:299.2px;">10<sup>4</sup></div>
<div class="t tk" style="left:300.6px;top:359.1px;">10<sup>3</sup></div>
<div class="t tk" style="left:300px;top:431.9px;">10<sup>4</sup></div>
<div class="t tk" style="left:300px;top:490.9px;">10<sup>3</sup></div>
</body></html>
